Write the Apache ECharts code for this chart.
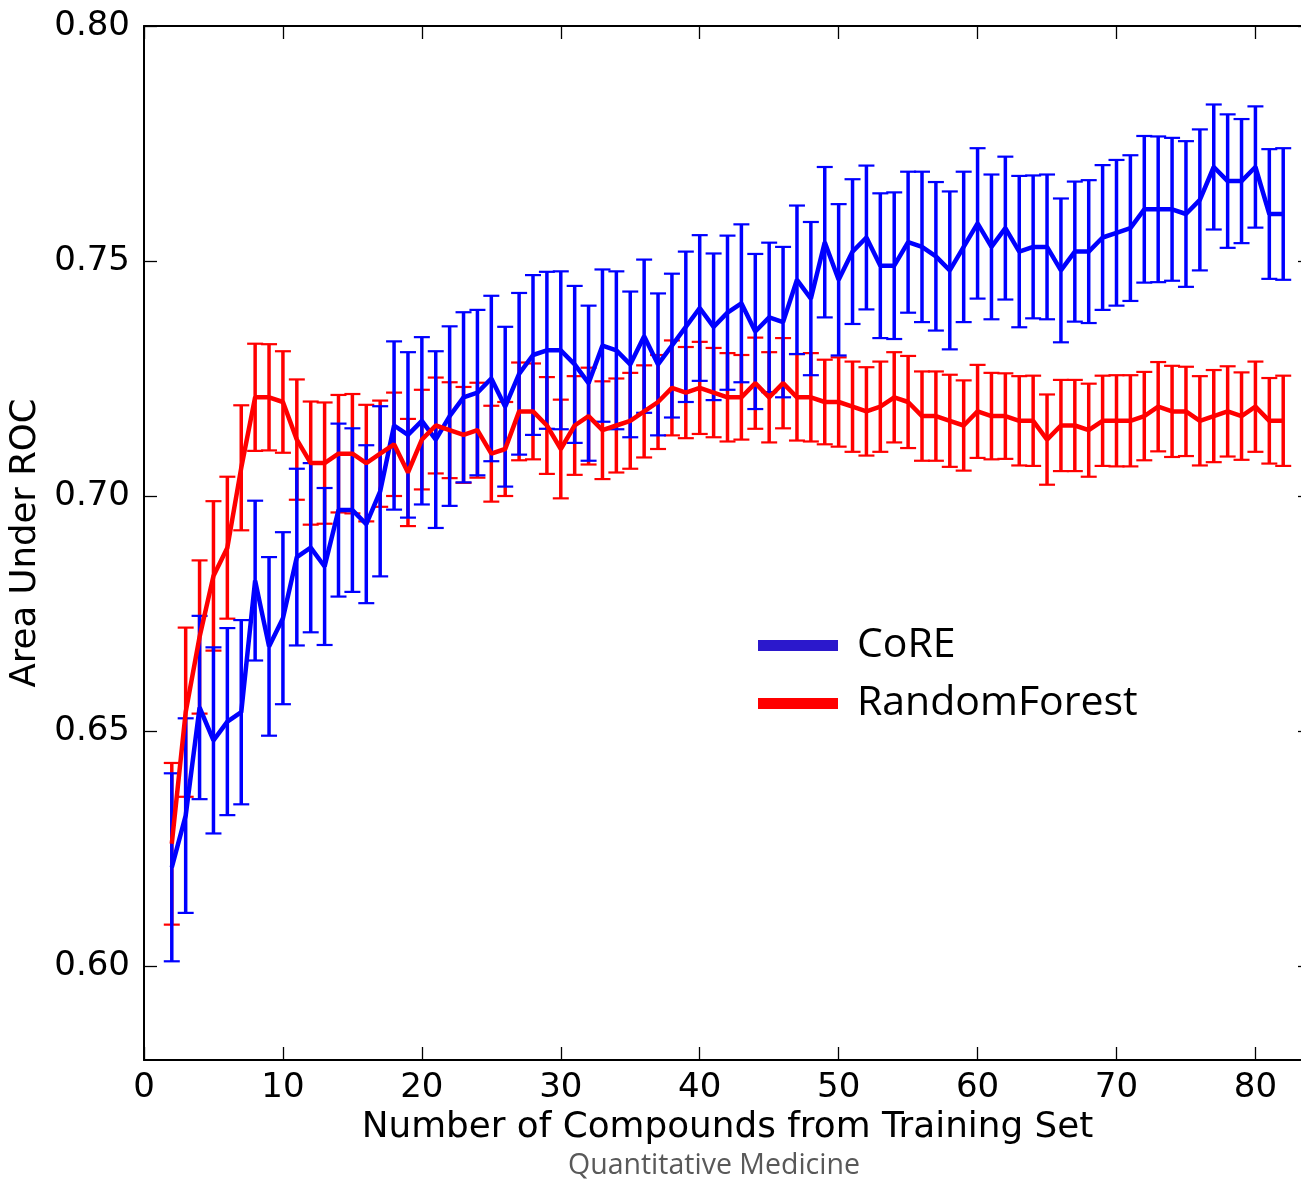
<!DOCTYPE html>
<html>
<head>
<meta charset="utf-8">
<script src="https://cdn.jsdelivr.net/npm/echarts@6/dist/echarts.min.js"></script>
<style>
html,body{margin:0;padding:0;background:#fff;}
#chart{width:1301px;height:1180px;}
</style>
</head>
<body>
<div id="chart"></div>
<script>
// ---- data ----
const xValues = [2,3,4,5,6,7,8,9,10,11,12,13,14,15,16,17,18,19,20,21,22,23,24,25,26,27,28,29,30,31,32,33,34,35,36,37,38,39,40,41,42,43,44,45,46,47,48,49,50,51,52,53,54,55,56,57,58,59,60,61,62,63,64,65,66,67,68,69,70,71,72,73,74,75,76,77,78,79,80,81,82];
const coreMean = [0.621,0.632,0.655,0.648,0.652,0.654,0.682,0.668,0.674,0.687,0.689,0.685,0.697,0.697,0.694,0.701,0.715,0.713,0.716,0.712,0.717,0.721,0.722,0.725,0.719,0.726,0.730,0.731,0.731,0.728,0.724,0.732,0.731,0.728,0.734,0.728,0.732,0.736,0.740,0.736,0.739,0.741,0.735,0.738,0.737,0.746,0.742,0.754,0.746,0.752,0.755,0.749,0.749,0.754,0.753,0.751,0.748,0.753,0.758,0.753,0.757,0.752,0.753,0.753,0.748,0.752,0.752,0.755,0.756,0.757,0.761,0.761,0.761,0.760,0.763,0.770,0.767,0.767,0.770,0.760,0.760];
const coreErr = [0.0200,0.0207,0.0195,0.0198,0.0199,0.0196,0.0170,0.0190,0.0183,0.0188,0.0180,0.0167,0.0184,0.0174,0.0168,0.0181,0.0179,0.0176,0.0178,0.0188,0.0191,0.0181,0.0176,0.0176,0.0170,0.0172,0.0170,0.0167,0.0168,0.0167,0.0165,0.0162,0.0168,0.0155,0.0163,0.0151,0.0153,0.0160,0.0155,0.0156,0.0164,0.0168,0.0165,0.0159,0.0160,0.0158,0.0163,0.0160,0.0161,0.0154,0.0153,0.0154,0.0156,0.0150,0.0160,0.0158,0.0168,0.0160,0.0160,0.0154,0.0152,0.0161,0.0152,0.0154,0.0153,0.0149,0.0152,0.0154,0.0155,0.0155,0.0156,0.0155,0.0152,0.0155,0.0150,0.0133,0.0142,0.0132,0.0129,0.0138,0.0140];
const rfMean = [0.626,0.654,0.670,0.683,0.689,0.706,0.721,0.721,0.720,0.712,0.707,0.707,0.709,0.709,0.707,0.709,0.711,0.705,0.712,0.715,0.714,0.713,0.714,0.709,0.710,0.718,0.718,0.715,0.710,0.715,0.717,0.714,0.715,0.716,0.718,0.720,0.723,0.722,0.723,0.722,0.721,0.721,0.724,0.721,0.724,0.721,0.721,0.720,0.720,0.719,0.718,0.719,0.721,0.720,0.717,0.717,0.716,0.715,0.718,0.717,0.717,0.716,0.716,0.712,0.715,0.715,0.714,0.716,0.716,0.716,0.717,0.719,0.718,0.718,0.716,0.717,0.718,0.717,0.719,0.716,0.716];
const rfErr = [0.0172,0.0180,0.0163,0.0159,0.0151,0.0133,0.0114,0.0113,0.0108,0.0128,0.0131,0.0129,0.0125,0.0127,0.0124,0.0113,0.0110,0.0114,0.0106,0.0102,0.0102,0.0102,0.0101,0.0102,0.0100,0.0104,0.0102,0.0103,0.0105,0.0105,0.0103,0.0104,0.0100,0.0102,0.0098,0.0100,0.0101,0.0097,0.0098,0.0095,0.0094,0.0090,0.0097,0.0096,0.0096,0.0092,0.0094,0.0090,0.0095,0.0096,0.0094,0.0096,0.0096,0.0098,0.0095,0.0095,0.0098,0.0096,0.0099,0.0092,0.0091,0.0095,0.0096,0.0096,0.0097,0.0097,0.0099,0.0096,0.0097,0.0097,0.0094,0.0095,0.0097,0.0095,0.0095,0.0098,0.0096,0.0093,0.0096,0.0091,0.0096];
const xTicks = [0,10,20,30,40,50,60,70,80];
const yTicks = [0.60,0.65,0.70,0.75,0.80];
const seriesNames = ['CoRE','RandomForest'];
const footerText = 'Quantitative Medicine';
const xTitle = 'Number of Compounds from Training Set';
const yTitle = 'Area Under ROC';

// ---- build ----
const coreLine = xValues.map((x,i)=>[x, coreMean[i]]);
const rfLine = xValues.map((x,i)=>[x, rfMean[i]]);
const coreBars = xValues.map((x,i)=>[x, coreMean[i]-coreErr[i], coreMean[i]+coreErr[i]]);
const rfBars = xValues.map((x,i)=>[x, rfMean[i]-rfErr[i], rfMean[i]+rfErr[i]]);

function errRender(color){
  return function(params, api){
    const x = api.value(0);
    const lo = api.coord([x, api.value(1)]);
    const hi = api.coord([x, api.value(2)]);
    const hw = 8;
    return {
      type:'group',
      children:[
        {type:'line', shape:{x1:lo[0],y1:lo[1],x2:hi[0],y2:hi[1]}, style:{stroke:color,lineWidth:3.5}},
        {type:'line', shape:{x1:lo[0]-hw,y1:lo[1],x2:lo[0]+hw,y2:lo[1]}, style:{stroke:color,lineWidth:2.2}},
        {type:'line', shape:{x1:hi[0]-hw,y1:hi[1],x2:hi[0]+hw,y2:hi[1]}, style:{stroke:color,lineWidth:2.2}}
      ]
    };
  };
}

const axisFont = 'DejaVu Sans';
const chart = echarts.init(document.getElementById('chart'), null, {renderer:'canvas'});
const option = {
  animation:false,
  backgroundColor:'#ffffff',
  grid:{left:144, top:26, width:1167, height:1034, containLabel:false, outerBoundsMode:'none'},
  xAxis:[
    {type:'value', min:0, max:84, position:'bottom',
     name:xTitle, nameLocation:'middle', nameGap:44,
     nameTextStyle:{fontFamily:axisFont, fontSize:35.8, color:'#000'},
     axisLine:{show:true, onZero:false, lineStyle:{color:'#000', width:2}},
     axisTick:{show:true, inside:true, length:13, customValues:xTicks, lineStyle:{color:'#000', width:1.3}},
     axisLabel:{show:true, customValues:xTicks, margin:11, fontFamily:axisFont, fontSize:34, color:'#000'},
     splitLine:{show:false}},
    {type:'value', min:0, max:84, position:'top',
     axisLine:{show:true, onZero:false, lineStyle:{color:'#000', width:2}},
     axisTick:{show:true, inside:true, length:13, customValues:xTicks, lineStyle:{color:'#000', width:1.3}},
     axisLabel:{show:false}, splitLine:{show:false}}
  ],
  yAxis:[
    {type:'value', min:0.58, max:0.80, position:'left',
     name:yTitle, nameLocation:'middle', nameGap:86, nameRotate:90,
     nameTextStyle:{fontFamily:axisFont, fontSize:35.5, color:'#000'},
     axisLine:{show:true, onZero:false, lineStyle:{color:'#000', width:2}},
     axisTick:{show:true, inside:true, length:13, customValues:yTicks, lineStyle:{color:'#000', width:1.3}},
     axisLabel:{show:true, customValues:yTicks, margin:14, fontFamily:axisFont, fontSize:34, color:'#000',
       formatter:(v)=>v.toFixed(2)},
     splitLine:{show:false}},
    {type:'value', min:0.58, max:0.80, position:'right',
     axisLine:{show:true, onZero:false, lineStyle:{color:'#000', width:2}},
     axisTick:{show:true, inside:true, length:13, customValues:yTicks, lineStyle:{color:'#000', width:1.3}},
     axisLabel:{show:false}, splitLine:{show:false}}
  ],
  legend:{
    show:true, orient:'vertical', left:753, top:620, itemWidth:80, itemHeight:11, itemGap:17,
    icon:'rect',
    data:[{name:seriesNames[0], itemStyle:{color:'#2B18CC'}}, {name:seriesNames[1], itemStyle:{color:'#FF0000'}}],
    textStyle:{fontFamily:'Open Sans', fontSize:41, color:'#000', padding:[8,0,0,14]},
    selectedMode:false
  },
  series:[
    {name:'rfErr', type:'custom', xAxisIndex:0, yAxisIndex:0, z:2, data:rfBars, renderItem:errRender('#ff0000'), silent:true},
    {name:'coreErr', type:'custom', xAxisIndex:0, yAxisIndex:0, z:3, data:coreBars, renderItem:errRender('#0000ff'), silent:true},
    {name:seriesNames[0], type:'line', z:4, data:coreLine, showSymbol:false, symbol:'none', color:'#0000ff',
     lineStyle:{color:'#0000ff', width:4.5}},
    {name:seriesNames[1], type:'line', z:5, data:rfLine, showSymbol:false, symbol:'none', color:'#ff0000',
     lineStyle:{color:'#ff0000', width:4.5}}
  ],
  graphic:[
    {type:'text', left:568, top:1151, style:{text:footerText, fontFamily:'Open Sans', fontSize:28.5, fill:'#595959'}}
  ]
};
chart.setOption(option);
</script>
</body>
</html>
